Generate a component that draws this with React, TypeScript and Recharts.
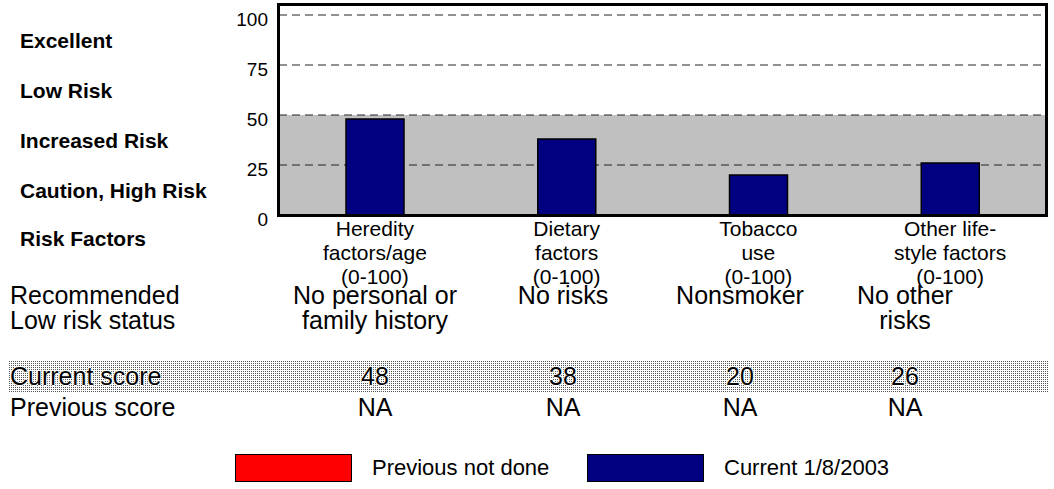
import { BarChart, Bar, XAxis, YAxis, CartesianGrid, Legend } from 'recharts'

const categories = [
  'Heredity\nfactors/age\n(0-100)',
  'Dietary\nfactors\n(0-100)',
  'Tobacco\nuse\n(0-100)',
  'Other life-\nstyle factors\n(0-100)',
]
const currentScores = [48, 38, 20, 26]
const previousScores: (number | null)[] = [null, null, null, null]
const yTicks = [0, 25, 50, 75, 100]
const riskLevels = ['Excellent', 'Low Risk', 'Increased Risk', 'Caution, High Risk']
const recommended = ['No personal or\nfamily history', 'No risks', 'Nonsmoker', 'No other\nrisks']
const legendItems = [
  { label: 'Previous not done', color: '#ff0000' },
  { label: 'Current 1/8/2003', color: '#000080' },
]

const FONT = '"Liberation Sans", Arial, Helvetica, sans-serif'
// table columns don't line up exactly with the bars in the original
const colCenters = [375, 563, 740, 905]

const data = categories.map((name, i) => ({
  name,
  current: currentScores[i],
  previous: previousScores[i],
}))

function XTick(props: any) {
  const { x, y, payload } = props
  const lines = String(payload.value).split('\n')
  return (
    <text x={x} y={y} textAnchor="middle" fontSize={21} fontFamily={FONT} fill="#000">
      {lines.map((l, i) => (
        <tspan key={i} x={x} dy={i === 0 ? 21 : 24}>{l}</tspan>
      ))}
    </text>
  )
}

function YTick(props: any) {
  const { x, y, payload } = props
  return (
    <text x={x} y={y + 11} textAnchor="end" fontSize={19} fontFamily={FONT} fill="#000">
      {payload.value}
    </text>
  )
}

function LegendContent() {
  return (
    <div style={{ display: 'flex', alignItems: 'center', paddingLeft: 235, fontFamily: FONT, fontSize: 22 }}>
      {legendItems.map((item, i) => (
        <div key={i} style={{ display: 'flex', alignItems: 'center', width: 352 }}>
          <span style={{ width: 115, height: 26, background: item.color, border: '1.5px solid #000', display: 'inline-block' }} />
          <span style={{ marginLeft: 20 }}>{item.label}</span>
        </div>
      ))}
    </div>
  )
}

const halo = '1px 0 #fff, -1px 0 #fff, 0 1px #fff, 0 -1px #fff'

export default function App() {
  const rowLabel: React.CSSProperties = { position: 'absolute', left: 10, fontSize: 25, lineHeight: '25px', whiteSpace: 'pre' }
  const edge: React.CSSProperties = { position: 'absolute', background: '#000', zIndex: 5, pointerEvents: 'none' }
  return (
    <div style={{ position: 'relative', width: 1054, height: 489, fontFamily: FONT, color: '#000', background: '#fff' }}>
      <style>{'body{margin:0}'}</style>
      <BarChart width={1054} height={489} data={data} margin={{ top: 5, right: 8, left: 219, bottom: 194 }}>
        <CartesianGrid
          vertical={false}
          strokeDasharray="8 5"
          stroke="#222"
          horizontalFill={['none', 'none', 'none', '#c0c0c0', '#c0c0c0']}
          fillOpacity={1}
        />
        <XAxis dataKey="name" height={80} axisLine={false} tickLine={false} tickSize={0} tickMargin={0} interval={0} tick={<XTick />} />
        <YAxis width={60} domain={[0, 105]} ticks={yTicks} axisLine={false} tickLine={false} tickSize={0} tickMargin={11} tick={<YTick />} />
        <Bar dataKey="current" barSize={58} fill="#000080" stroke="#000" strokeWidth={1.5} isAnimationActive={false} />
        <Legend layout="horizontal" verticalAlign="middle" align="center" content={<LegendContent />}
          wrapperStyle={{ top: 454, left: 0, bottom: 'auto', width: 1054 }} />
      </BarChart>

      {/* heavy frame round the plot area */}
      <div style={{ ...edge, left: 277, top: 3, width: 771, height: 3 }} />
      <div style={{ ...edge, left: 277, top: 214, width: 771, height: 3 }} />
      <div style={{ ...edge, left: 277, top: 3, width: 3, height: 214 }} />
      <div style={{ ...edge, left: 1045, top: 3, width: 3, height: 214 }} />

      {riskLevels.map((r, i) => (
        <div key={r} style={{ position: 'absolute', left: 20, top: 29 + i * 50, fontSize: 21, lineHeight: '24px', fontWeight: 'bold' }}>{r}</div>
      ))}
      <div style={{ position: 'absolute', left: 20, top: 227, fontSize: 21, lineHeight: '24px', fontWeight: 'bold' }}>Risk Factors</div>

      <div style={{ ...rowLabel, top: 283 }}>{'Recommended\nLow risk status'}</div>
      {recommended.map((t, i) => (
        <div key={i} style={{ position: 'absolute', left: colCenters[i] - 110, width: 220, top: 283, fontSize: 25, lineHeight: '25px', textAlign: 'center', whiteSpace: 'pre' }}>{t}</div>
      ))}

      <div style={{
        position: 'absolute', left: 8, top: 360, width: 1040, height: 33,
        background: 'linear-gradient(90deg, #fff 1px, transparent 1px) 0 0/2px 2px, linear-gradient(#fff 1px, #555 1px) 0 0/2px 2px',
      }} />
      <div style={{ ...rowLabel, top: 364, textShadow: halo }}>Current score</div>
      {currentScores.map((v, i) => (
        <div key={i} style={{ position: 'absolute', left: colCenters[i] - 50, width: 100, top: 364, fontSize: 25, lineHeight: '25px', textAlign: 'center', textShadow: halo }}>{v}</div>
      ))}

      <div style={{ ...rowLabel, top: 395 }}>Previous score</div>
      {previousScores.map((v, i) => (
        <div key={i} style={{ position: 'absolute', left: colCenters[i] - 50, width: 100, top: 395, fontSize: 25, lineHeight: '25px', textAlign: 'center' }}>{v == null ? 'NA' : v}</div>
      ))}
    </div>
  )
}
